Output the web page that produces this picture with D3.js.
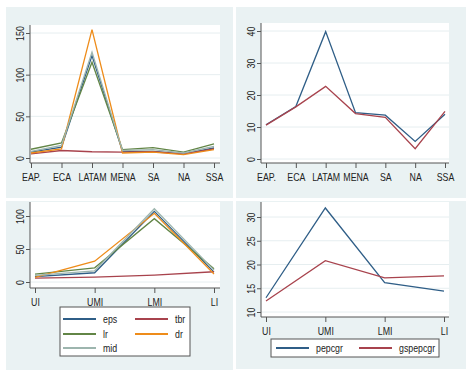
<!DOCTYPE html>
<html>
<head>
<meta charset="utf-8">
<script src="https://cdn.jsdelivr.net/npm/d3@7"></script>
<style>
  body { margin: 0; background: #fff; }
  text { font-family: "Liberation Sans", Arial, sans-serif; fill: #222; }
</style>
</head>
<body>
<div id="chart"></div>
<script>
// categories
const regions = ["EAP.", "ECA", "LATAM", "MENA", "SA", "NA", "SSA"];
const incomeGroups = ["UI", "UMI", "LMI", "LI"];

// regional series (top left)
const regionEps = [7, 13, 123, 8, 8, 5, 12];
const regionTbr = [5, 9, 7.5, 7, 7.5, 5, 11];
const regionLr  = [10.5, 18, 115, 10, 12.5, 7, 17];
const regionDr  = [6, 11, 154, 6, 7, 4, 10];
const regionMid = [8, 15, 127, 9, 10, 6, 14];

// regional growth (top right)
const regionPepcgr   = [10.7, 16.4, 39.8, 14.5, 13.7, 5.5, 14.0];
const regionGspepcgr = [10.6, 16.3, 22.7, 14.2, 13.0, 3.2, 14.9];

// income group series (bottom left)
const incomeEps = [8, 14, 107, 15];
const incomeTbr = [6, 7.5, 10.5, 15.5];
const incomeLr  = [12, 21.5, 96, 20];
const incomeDr  = [7, 31.5, 104, 12];
const incomeMid = [10, 17, 111, 18];

// income group growth (bottom right)
const incomePepcgr   = [13.0, 31.9, 16.2, 14.4];
const incomeGspepcgr = [12.3, 20.8, 17.2, 17.6];

// y tick values
const ticksTL = [0, 50, 100, 150];
const ticksTR = [0, 10, 20, 30, 40];
const ticksBL = [0, 50, 100];
const ticksBR = [10, 15, 20, 25, 30];

const col = {eps: "#2f5e87", tbr: "#a8434d", lr: "#628546", dr: "#ee8c1a", mid: "#9db5ae"};

const svg = d3.select("#chart").append("svg")
    .attr("width", 473)
    .attr("height", 374);

svg.append("rect").attr("width", 473).attr("height", 374).attr("fill", "#fff");

// panel layout (pixel geometry only)
const panels = [
  {bg: [6, 7, 227, 191], plot: [30, 220, 25, 163], cats: regions, xr: [31, 214],
   yd: [0, 150], yr: [158, 33], ticks: ticksTL,
   series: [["eps", regionEps], ["tbr", regionTbr], ["lr", regionLr], ["dr", regionDr], ["mid", regionMid]]},
  {bg: [236, 7, 230, 191], plot: [261, 449, 23, 163], cats: regions, xr: [266, 445],
   yd: [0, 40], yr: [159, 31], ticks: ticksTR,
   series: [["eps", regionPepcgr], ["tbr", regionGspepcgr]]},
  {bg: [6, 201, 227, 169], plot: [30, 220, 202, 288], cats: incomeGroups, xr: [35, 214],
   yd: [0, 100], yr: [282, 216], ticks: ticksBL,
   series: [["eps", incomeEps], ["tbr", incomeTbr], ["lr", incomeLr], ["dr", incomeDr], ["mid", incomeMid]]},
  {bg: [236, 201, 230, 168], plot: [261, 449, 202, 317], cats: incomeGroups, xr: [266, 444],
   yd: [10, 30], yr: [312, 217], ticks: ticksBR,
   series: [["eps", incomePepcgr], ["tbr", incomeGspepcgr]]}
];

panels.forEach(p => {
    const g = svg.append("g");
    g.append("rect")
        .attr("x", p.bg[0]).attr("y", p.bg[1])
        .attr("width", p.bg[2]).attr("height", p.bg[3])
        .attr("fill", "#eaf2f3");

    const [x0, x1, y0, y1] = p.plot;
    g.append("rect")
        .attr("x", x0).attr("y", y0)
        .attr("width", x1 - x0).attr("height", y1 - y0)
        .attr("fill", "#fff");

    const x = d3.scalePoint().domain(p.cats).range(p.xr);
    const y = d3.scaleLinear().domain(p.yd).range(p.yr);

    // gridlines
    g.selectAll(".grid")
        .data(p.ticks)
        .enter().append("line")
        .attr("x1", x0).attr("x2", x1)
        .attr("y1", d => y(d)).attr("y2", d => y(d))
        .attr("stroke", "#e6eef0")
        .attr("stroke-width", 1);

    // series lines
    p.series.forEach(([key, vals]) => {
        g.append("path")
            .datum(vals)
            .attr("fill", "none")
            .attr("stroke", col[key])
            .attr("stroke-width", 1.3)
            .attr("d", d3.line().x((d, i) => x(p.cats[i])).y(d => y(d)));
    });

    // axis lines
    g.append("line").attr("x1", x0).attr("x2", x0).attr("y1", y0).attr("y2", y1)
        .attr("stroke", "#555");
    g.append("line").attr("x1", x0).attr("x2", x1).attr("y1", y1).attr("y2", y1)
        .attr("stroke", "#555");

    // y axis
    const ya = g.append("g")
        .attr("transform", `translate(${x0},0)`)
        .call(d3.axisLeft(y).tickValues(p.ticks).tickSize(4).tickSizeOuter(0));
    ya.select(".domain").remove();
    ya.selectAll(".tick line").attr("stroke", "#555");
    ya.selectAll(".tick text")
        .attr("x", null).attr("dy", null)
        .attr("text-anchor", "middle")
        .attr("transform", "translate(-6,0) rotate(-90) scale(0.85,1)")
        .style("font-size", "10.5px")
        .style("font-family", "Liberation Sans, Arial, sans-serif")
        .attr("fill", "#222");

    // x axis
    const xa = g.append("g")
        .attr("transform", `translate(0,${y1})`)
        .call(d3.axisBottom(x).tickSize(5).tickSizeOuter(0));
    xa.select(".domain").remove();
    xa.selectAll(".tick line").attr("stroke", "#555");
    xa.selectAll(".tick text")
        .attr("y", 18).attr("dy", null)
        .attr("transform", "scale(0.8,1)")
        .style("font-size", "11px")
        .style("font-family", "Liberation Sans, Arial, sans-serif")
        .attr("fill", "#222");
});

// legends
function legend(box, items) {
    svg.append("rect")
        .attr("x", box[0]).attr("y", box[1])
        .attr("width", box[2]).attr("height", box[3])
        .attr("fill", "#fff").attr("stroke", "#555");
    items.forEach(it => {
        svg.append("line")
            .attr("x1", it.x).attr("x2", it.x + 33)
            .attr("y1", it.y).attr("y2", it.y)
            .attr("stroke", col[it.key]).attr("stroke-width", 1.8);
        svg.append("text")
            .attr("transform", `translate(${it.x + 40},${it.y + 4}) scale(0.8,1)`)
            .style("font-size", "11px")
            .text(it.label);
    });
}

legend([60, 307, 130, 49], [
    {key: "eps", label: "eps", x: 63, y: 319},
    {key: "tbr", label: "tbr", x: 135, y: 319},
    {key: "lr", label: "lr", x: 63, y: 334},
    {key: "dr", label: "dr", x: 135, y: 334},
    {key: "mid", label: "mid", x: 63, y: 348}
]);

legend([271, 339, 168, 18], [
    {key: "eps", label: "pepcgr", x: 276, y: 348},
    {key: "tbr", label: "gspepcgr", x: 359, y: 348}
]);
</script>
</body>
</html>
